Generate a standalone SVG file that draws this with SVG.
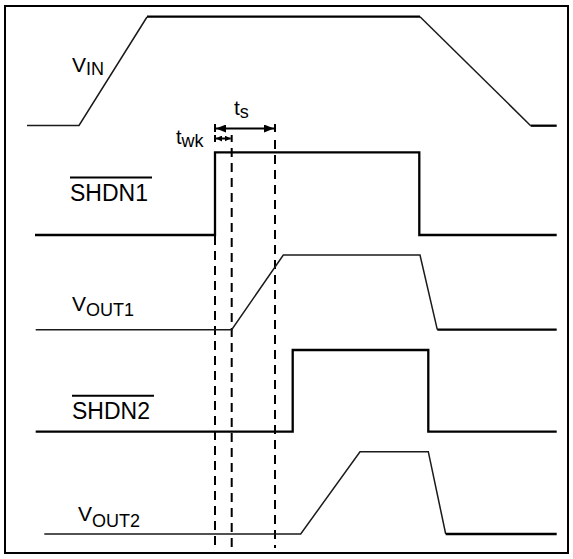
<svg xmlns="http://www.w3.org/2000/svg" width="573" height="559" viewBox="0 0 573 559">
<defs>
<style>
.frame{fill:none;stroke:#000;stroke-width:2}
.sig{fill:none;stroke:#000;stroke-width:2.3;stroke-linejoin:miter}
.thin{fill:none;stroke:#1a1a1a;stroke-width:1.5}
.dash{fill:none;stroke:#000;stroke-width:2;stroke-dasharray:9 6}
.tick{fill:none;stroke:#000;stroke-width:2}
.arr{fill:none;stroke:#000;stroke-width:2}
.lbl{font-family:"Liberation Sans",Arial,sans-serif;fill:#000}
.big{font-size:21px}
.sub{font-size:18px}
.sh{font-size:23px}
</style>
<marker id="ah" viewBox="0 0 10 8" refX="10" refY="4" markerWidth="10" markerHeight="8" markerUnits="userSpaceOnUse" orient="auto-start-reverse">
<path d="M0,0 L10,4 L0,8 Z" fill="#000"/>
</marker>
<marker id="ahs" viewBox="0 0 6 6" refX="6" refY="3" markerWidth="6" markerHeight="6" markerUnits="userSpaceOnUse" orient="auto-start-reverse">
<path d="M0,0 L6,3 L0,6 Z" fill="#000"/>
</marker>
</defs>
<rect class="frame" x="5" y="6" width="563" height="547"/>
<g id="connectors">
<line class="dash" x1="215" y1="236" x2="215" y2="548"/>
<line class="dash" x1="231.7" y1="148" x2="231.7" y2="548"/>
<line class="dash" x1="275" y1="140" x2="275" y2="548"/>
<line class="tick" x1="215" y1="124" x2="215" y2="132"/>
<line class="tick" x1="275" y1="124" x2="275" y2="132"/>
<line class="arr" x1="216" y1="128.5" x2="274" y2="128.5" marker-start="url(#ah)" marker-end="url(#ah)"/>
<line class="tick" x1="215" y1="135" x2="215" y2="142"/>
<line class="tick" x1="231.7" y1="135" x2="231.7" y2="142"/>
<line class="arr" x1="216" y1="138.5" x2="230.7" y2="138.5" stroke-width="1.5" marker-start="url(#ahs)" marker-end="url(#ahs)"/>
</g>
<g id="vin">
<polyline class="thin" points="27,125.5 79,125.5 147,17"/>
<polyline class="sig" stroke-width="2" points="147,16.7 420,16.7"/>
<polyline class="thin" points="420,16.7 530.7,125.7"/>
<line class="sig" x1="530.7" y1="125.7" x2="556.7" y2="125.7"/>
<text class="lbl big" x="72" y="72">V<tspan class="sub" dy="2.5">IN</tspan></text>
</g>
<g id="shdn1">
<polyline class="sig" points="35,235 215,235 215,152.3 419.3,152.3 419.3,235 556.7,235"/>
<text class="lbl sh" x="70" y="201">SHDN1</text>
<line class="tick" x1="70" y1="177.5" x2="152" y2="177.5"/>
</g>
<g id="vout1">
<polyline class="thin" points="35.7,329.7 231.7,329.7 283.3,255 420,255 437.3,329.7"/>
<line class="sig" x1="437.3" y1="329.7" x2="556.7" y2="329.7"/>
<text class="lbl big" x="72" y="311">V<tspan class="sub" dy="5">OUT1</tspan></text>
</g>
<g id="shdn2">
<polyline class="sig" points="35.7,431.7 292.7,431.7 292.7,350 428.3,350 428.3,431.7 556.7,431.7"/>
<text class="lbl sh" x="72" y="418.5">SHDN2</text>
<line class="tick" x1="72" y1="395.7" x2="154" y2="395.7"/>
</g>
<g id="vout2">
<polyline class="thin" points="44.3,534 300.7,534 360,451.7 428.3,451.7 445.7,534"/>
<line class="sig" x1="445.7" y1="534" x2="556.7" y2="534"/>
<text class="lbl big" x="78" y="520.5">V<tspan class="sub" dy="6">OUT2</tspan></text>
</g>
<g id="labels">
<text class="lbl" x="234" y="115" font-size="21">t<tspan font-size="18" dy="3">s</tspan></text>
<text class="lbl" x="176" y="144" font-size="20">t<tspan font-size="18" dy="3">wk</tspan></text>
</g>
</svg>
